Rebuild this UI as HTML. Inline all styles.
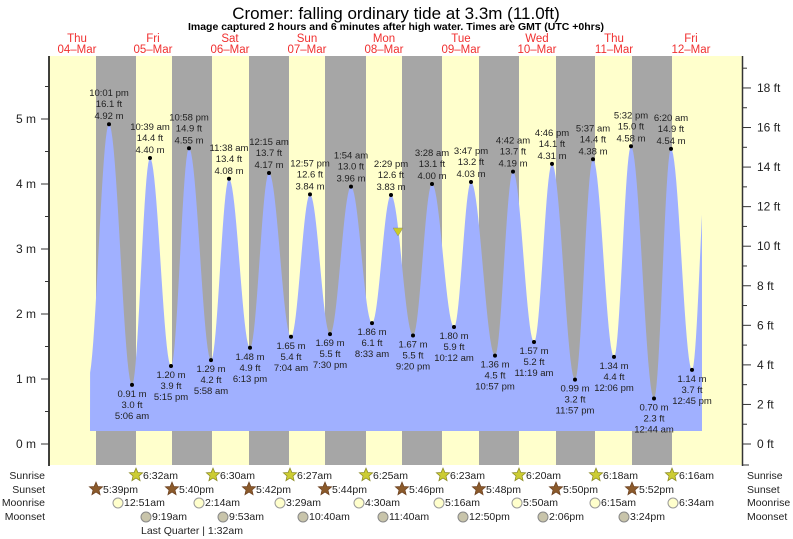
<!DOCTYPE html>
<html><head><meta charset="utf-8"><style>
body{margin:0;background:#fff;}
svg{display:block;font-family:"Liberation Sans",sans-serif;}
</style></head><body>
<svg id="s" width="793" height="539" viewBox="0 0 793 539">
<text x="396" y="19" font-size="17" text-anchor="middle" fill="#000">Cromer: falling  ordinary tide at 3.3m (11.0ft)</text>
<text x="396" y="30" font-size="10.5" font-weight="bold" text-anchor="middle" fill="#000">Image captured 2 hours and 6 minutes after high water. Times are GMT (UTC +0hrs)</text>
<rect x="49" y="56" width="693" height="409" fill="#ffffcc"/>
<g id="bands" fill="#a6a6a6"></g>
<path id="tide" fill="#a0b0ff"/>
<g id="lab" font-size="9.5" fill="#222" text-anchor="middle"></g>
<polygon points="393,228 403,228 398,236" fill="#cccc22" stroke="#888" stroke-width="0.5"/>
<line x1="49" y1="56" x2="49" y2="466" stroke="#000" stroke-width="1.5"/>
<line x1="742.5" y1="56" x2="742.5" y2="466" stroke="#333" stroke-width="1.5"/>
<g id="ax" font-size="12" fill="#222"></g>
<g id="days" font-size="11.5" fill="#f03030" text-anchor="middle"></g>
<g id="bot" font-size="10.5" fill="#222"></g>
</svg>
<script>
var NS="http://www.w3.org/2000/svg";
function el(p,t,a,txt){var e=document.createElementNS(NS,t);for(var k in a)e.setAttribute(k,a[k]);if(txt!=null)e.textContent=txt;p.appendChild(e);return e;}
var bands=document.getElementById('bands');
[[96,136],[172,212],[249,289],[325,366],[402,442],[479,519],[556,595],[632,672]].forEach(function(b){el(bands,'rect',{x:b[0],y:56,width:b[1]-b[0],height:409});});
function Y(m){return 444-65*m;}
var pts=[[109,4.92,'10:01 pm','16.1 ft'],[132,0.91,'5:06 am','3.0 ft'],[150,4.40,'10:39 am','14.4 ft'],[171,1.20,'5:15 pm','3.9 ft'],[189,4.55,'10:58 pm','14.9 ft'],[211,1.29,'5:58 am','4.2 ft'],[229,4.08,'11:38 am','13.4 ft'],[250,1.48,'6:13 pm','4.9 ft'],[269,4.17,'12:15 am','13.7 ft'],[291,1.65,'7:04 am','5.4 ft'],[310,3.84,'12:57 pm','12.6 ft'],[330,1.69,'7:30 pm','5.5 ft'],[351,3.96,'1:54 am','13.0 ft'],[372,1.86,'8:33 am','6.1 ft'],[391,3.83,'2:29 pm','12.6 ft'],[413,1.67,'9:20 pm','5.5 ft'],[432,4.00,'3:28 am','13.1 ft'],[454,1.80,'10:12 am','5.9 ft'],[471,4.03,'3:47 pm','13.2 ft'],[495,1.36,'10:57 pm','4.5 ft'],[513,4.19,'4:42 am','13.7 ft'],[534,1.57,'11:19 am','5.2 ft'],[552,4.31,'4:46 pm','14.1 ft'],[575,0.99,'11:57 pm','3.2 ft'],[593,4.38,'5:37 am','14.4 ft'],[614,1.34,'12:06 pm','4.4 ft'],[631,4.58,'5:32 pm','15.0 ft'],[654,0.70,'12:44 am','2.3 ft'],[671,4.54,'6:20 am','14.9 ft'],[692,1.14,'12:45 pm','3.7 ft']];
var all=[[88,1.0]].concat(pts.map(function(p){return [p[0],p[1]];})).concat([[708,4.6]]);
var d='M90,431 ';
for(var i=0;i<all.length-1;i++){var a=all[i],b=all[i+1];for(var s=0;s<=20;s++){var x=a[0]+(b[0]-a[0])*s/20;if(x<90||x>702)continue;var m=a[1]+(b[1]-a[1])*(1-Math.cos(Math.PI*s/20))/2;d+='L'+x.toFixed(2)+','+Y(m).toFixed(2)+' ';}}
d+='L702,'+Y(3.53).toFixed(1)+' L702,431 Z';
document.getElementById('tide').setAttribute('d',d);
var lab=document.getElementById('lab');
pts.forEach(function(p,i){var x=p[0],y=Y(p[1]);el(lab,'circle',{cx:x,cy:y,r:2,fill:'#000'});var ms=p[1].toFixed(2)+' m';
if(i%2==0){el(lab,'text',{x:x,y:y-28},p[2]);el(lab,'text',{x:x,y:y-17},p[3]);el(lab,'text',{x:x,y:y-5},ms);}
else{el(lab,'text',{x:x,y:y+12},ms);el(lab,'text',{x:x,y:y+23},p[3]);el(lab,'text',{x:x,y:y+34},p[2]);}});
var ax=document.getElementById('ax');
for(var h=0;h<=11;h++){var y=Y(h/2);if(y<56)break;var maj=h%2==0;el(ax,'line',{x1:maj?41:45,x2:49,y1:y,y2:y,stroke:'#333'});if(maj)el(ax,'text',{x:36,y:y+4,'text-anchor':'end'},(h/2)+' m');}
for(var f=0;f<=19;f++){var y=444-19.78*f;el(ax,'line',{x1:743,x2:f%2==0?751:747,y1:y,y2:y,stroke:'#333'});if(f%2==0)el(ax,'text',{x:757,y:y+4},f+' ft');}
el(ax,'line',{x1:743,x2:749,y1:465,y2:465,stroke:'#333'});
var days=document.getElementById('days');
[['Thu','04\u2013Mar',77],['Fri','05\u2013Mar',153],['Sat','06\u2013Mar',230],['Sun','07\u2013Mar',307],['Mon','08\u2013Mar',384],['Tue','09\u2013Mar',461],['Wed','10\u2013Mar',537],['Thu','11\u2013Mar',614],['Fri','12\u2013Mar',691]].forEach(function(t){el(days,'text',{x:t[2],y:42},t[0]);el(days,'text',{x:t[2],y:53},t[1]);});
var bot=document.getElementById('bot');
var rows=[['Sunrise',479],['Sunset',493],['Moonrise',506],['Moonset',520]];
rows.forEach(function(r){el(bot,'text',{x:45,y:r[1],'text-anchor':'end'},r[0]);el(bot,'text',{x:747,y:r[1]},r[0]);});
function star(cx,cy,r,fill,stroke){var p=[];for(var k=0;k<10;k++){var rr=k%2?r*0.45:r;var an=-Math.PI/2+k*Math.PI/5;p.push((cx+rr*Math.cos(an)).toFixed(1)+','+(cy+rr*Math.sin(an)).toFixed(1));}el(bot,'polygon',{points:p.join(' '),fill:fill,stroke:stroke,'stroke-width':0.7});}
[[136,'6:32am'],[213,'6:30am'],[290,'6:27am'],[366,'6:25am'],[443,'6:23am'],[519,'6:20am'],[596,'6:18am'],[672,'6:16am']].forEach(function(s){star(s[0],475,7,'#cccc33','#888822');el(bot,'text',{x:s[0]+7,y:479},s[1]);});
[[96,'5:39pm'],[172,'5:40pm'],[249,'5:42pm'],[325,'5:44pm'],[402,'5:46pm'],[479,'5:48pm'],[556,'5:50pm'],[632,'5:52pm']].forEach(function(s){star(s[0],489,7,'#8b5a2b','#6b4020');el(bot,'text',{x:s[0]+7,y:493},s[1]);});
[[118,'12:51am'],[199,'2:14am'],[280,'3:29am'],[359,'4:30am'],[439,'5:16am'],[517,'5:50am'],[595,'6:15am'],[673,'6:34am']].forEach(function(s){el(bot,'circle',{cx:s[0],cy:503,r:5,fill:'#ffffcc',stroke:'#999'});el(bot,'text',{x:s[0]+6,y:506},s[1]);});
[[146,'9:19am'],[223,'9:53am'],[303,'10:40am'],[383,'11:40am'],[463,'12:50pm'],[543,'2:06pm'],[624,'3:24pm']].forEach(function(s){el(bot,'circle',{cx:s[0],cy:517,r:5,fill:'#c8c4aa',stroke:'#888'});el(bot,'text',{x:s[0]+6,y:520},s[1]);});
el(bot,'text',{x:141,y:534},'Last Quarter | 1:32am');
</script>
</body></html>
